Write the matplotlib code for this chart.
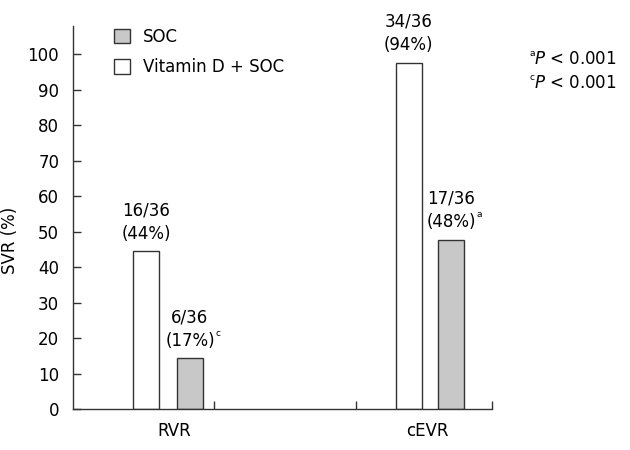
import matplotlib.pyplot as plt
import numpy as np
from matplotlib.patches import Patch

plt.rcParams['font.family'] = ['DejaVu Sans']
plt.rcParams['mathtext.fontset'] = 'dejavusans'

groups = ['RVR', 'cEVR']
vitd_soc = [44.5, 97.7]   # white bars, as drawn
soc = [14.3, 47.8]        # grey bars, as drawn
vitd_text = ['16/36\n(44%)', '34/36\n(94%)']
soc_text = ['6/36\n(17%)', '17/36\n(48%)']
soc_sup = ['c', 'a']
pvals = [('a', '0.001'), ('c', '0.001')]

white_x = np.array([0.525, 2.403])
grey_x = np.array([0.837, 2.709])
group_x = [0.728, 2.534]
bar_w = 0.186
edge = '#333333'
grey = '#c8c8c8'

fig = plt.figure(figsize=(6.3, 4.5), dpi=100)
ax = fig.add_axes([0.116, 0.091, 0.665, 0.851])

ax.bar(white_x, vitd_soc, width=bar_w, color='white', edgecolor=edge, linewidth=1)
ax.bar(grey_x, soc, width=bar_w, color=grey, edgecolor=edge, linewidth=1)

for x, v, t in zip(white_x, vitd_soc, vitd_text):
    ax.text(x, v + 2.3, t, ha='center', va='bottom', fontsize=12, linespacing=1.4)
for x, v, t, s in zip(grey_x, soc, soc_text, soc_sup):
    lab = ax.text(x, v + 2.3, t, ha='center', va='bottom', fontsize=12, linespacing=1.4)
    # small superscript after the percentage line
    ax.annotate(s, xy=(1.0, 0.3), xycoords=lab, xytext=(0.5, 0), textcoords='offset points',
                ha='left', va='bottom', fontsize=6.5)

ax.set_xlim(0, 3)
ax.set_ylim(0, 108)
ax.set_yticks(np.arange(0, 101, 10))
ax.set_xticks(group_x)
ax.set_xticklabels(groups)
ax.set_xticks([1.009, 2.024, 3], minor=True)
ax.tick_params(axis='x', which='major', length=0, pad=9, labelsize=12)
ax.tick_params(axis='x', which='minor', direction='in', length=6, width=1, color=edge)
ax.tick_params(axis='y', direction='in', length=6, width=1, color=edge, labelsize=12, pad=10)

for side in ['top', 'right']:
    ax.spines[side].set_visible(False)
for side in ['left', 'bottom']:
    ax.spines[side].set_color(edge)
    ax.spines[side].set_linewidth(1)

ax.set_ylabel('SVR (%)', fontsize=12)
ax.yaxis.set_label_coords(-0.128, 0.44)

handles = [Patch(facecolor=grey, edgecolor=edge, label='SOC'),
           Patch(facecolor='white', edgecolor=edge, label='Vitamin D + SOC')]
ax.legend(handles=handles, loc='upper left', bbox_to_anchor=(0.063, 1.035), frameon=False,
          fontsize=12, handlelength=0.95, handleheight=0.95, handletextpad=0.75, labelspacing=0.75)

for i, (s, p) in enumerate(pvals):
    fig.text(529 / 630, 1 - (54 + 24 * i) / 450, s, ha='left', va='center', fontsize=6.5)
    fig.text(534 / 630, 1 - (59 + 24 * i) / 450, r'$\mathit{P}$ < ' + p,
             ha='left', va='center', fontsize=12)

fig.savefig('out.png', dpi=100)
